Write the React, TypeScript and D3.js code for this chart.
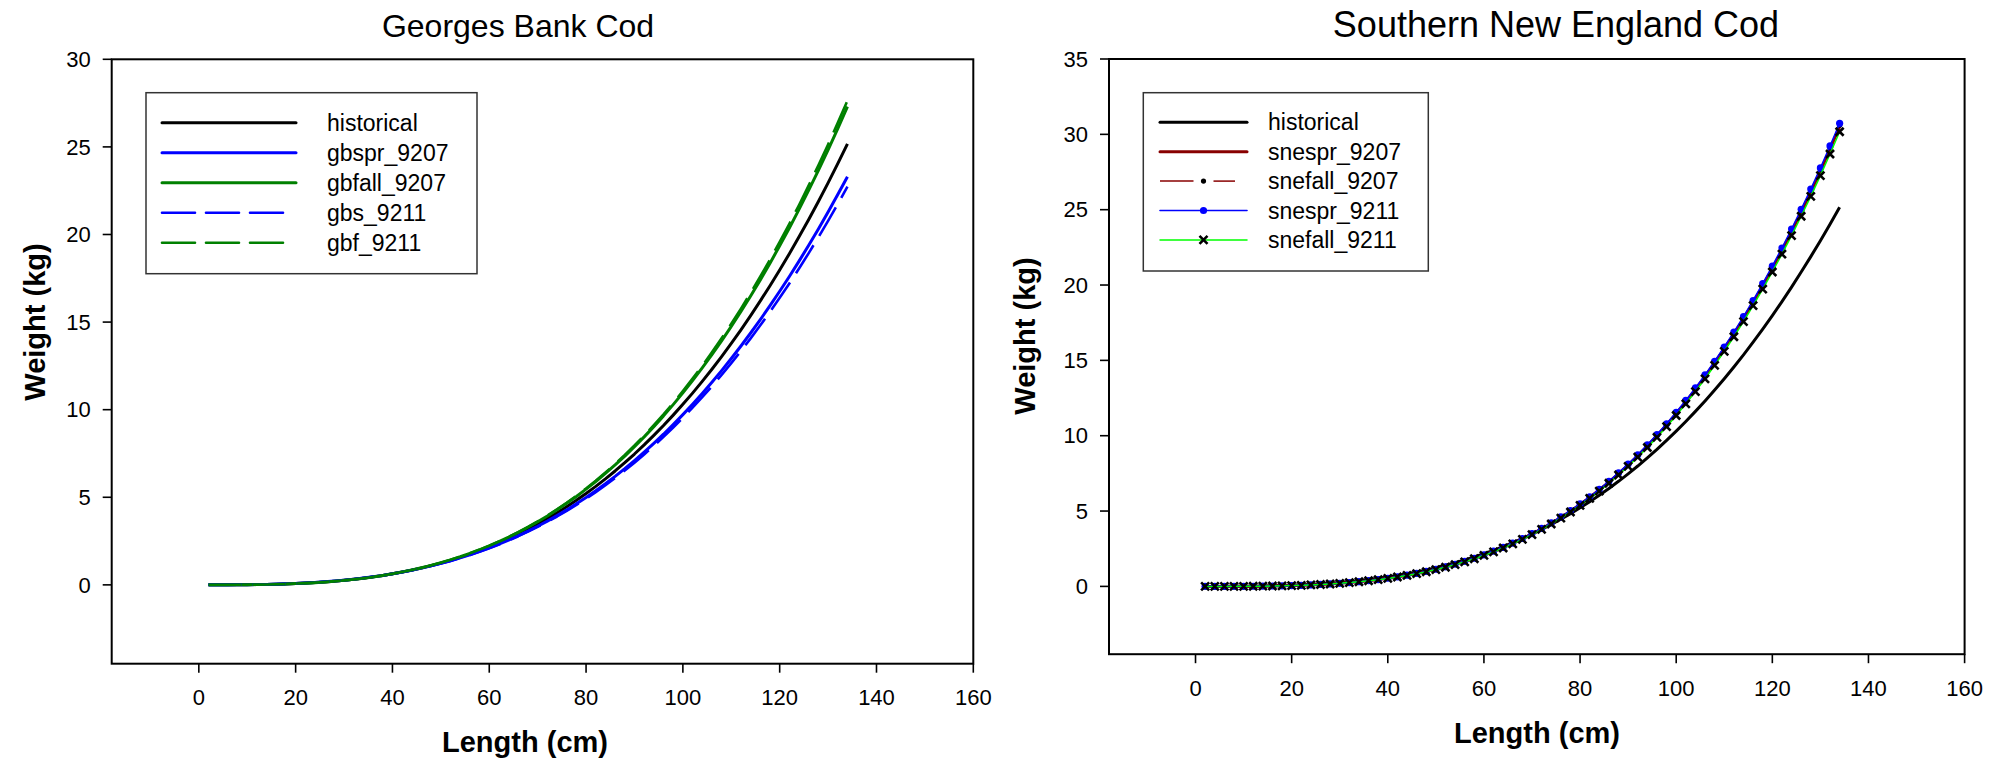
import React from "react";
import * as d3 from "d3";

// ---------- DATA ----------
const lengths = [2, 4, 6, 8, 10, 12, 14, 16, 18, 20, 22, 24, 26, 28, 30, 32, 34, 36, 38, 40, 42, 44, 46, 48, 50, 52, 54, 56, 58, 60, 62, 64, 66, 68, 70, 72, 74, 76, 78, 80, 82, 84, 86, 88, 90, 92, 94, 96, 98, 100, 102, 104, 106, 108, 110, 112, 114, 116, 118, 120, 122, 124, 126, 128, 130, 132, 134];

const historical = [0.0001, 0.00056, 0.00192, 0.00462, 0.00914, 0.01595, 0.02553, 0.03835, 0.05496, 0.0758, 0.1014, 0.1322, 0.1688, 0.2117, 0.2612, 0.3181, 0.3828, 0.4557, 0.5375, 0.6287, 0.7296, 0.8409, 0.9629, 1.0965, 1.242, 1.3999, 1.571, 1.7556, 1.9538, 2.1668, 2.3948, 2.6385, 2.8985, 3.175, 3.4685, 3.7805, 4.1101, 4.4582, 4.8262, 5.2136, 5.6219, 6.0505, 6.5006, 6.9734, 7.4692, 7.9875, 8.53, 9.0948, 9.6878, 10.3034, 10.946, 11.614, 12.307, 13.03, 13.782, 14.561, 15.369, 16.207, 17.076, 17.975, 18.902, 19.865, 20.861, 21.884, 22.944, 24.041, 25.168];

// Georges Bank
const gbspr_9207 = [0.0001, 0.00065, 0.00217, 0.00512, 0.00999, 0.01722, 0.0273, 0.0407, 0.0578, 0.0792, 0.1053, 0.1366, 0.1735, 0.2166, 0.266, 0.3227, 0.3868, 0.4588, 0.5393, 0.6287, 0.7273, 0.8358, 0.9543, 1.0838, 1.2245, 1.3767, 1.5412, 1.7183, 1.908, 2.1115, 2.3288, 2.5606, 2.8074, 3.0693, 3.3469, 3.6413, 3.9519, 4.2793, 4.625, 4.9881, 5.3702, 5.7708, 6.1908, 6.6313, 7.0926, 7.5741, 8.0775, 8.6007, 9.1494, 9.7184, 10.3115, 10.927, 11.565, 12.23, 12.921, 13.635, 14.376, 15.143, 15.937, 16.758, 17.604, 18.482, 19.388, 20.319, 21.282, 22.278, 23.3];
const gbfall_9207 = [0.0001, 0.00048, 0.00169, 0.00415, 0.00833, 0.01471, 0.0238, 0.0361, 0.0521, 0.0724, 0.0974, 0.1277, 0.164, 0.2067, 0.2562, 0.3134, 0.3786, 0.4525, 0.5357, 0.6287, 0.732, 0.8463, 0.972, 1.11, 1.2608, 1.4248, 1.603, 1.7958, 2.0032, 2.2266, 2.4664, 2.7231, 2.9977, 3.2903, 3.6014, 3.9329, 4.2836, 4.6547, 5.0477, 5.4622, 5.8997, 6.3598, 6.8438, 7.3529, 7.8875, 8.4473, 9.0341, 9.6459, 10.2891, 10.9579, 11.6567, 12.384, 13.14, 13.929, 14.751, 15.604, 16.49, 17.409, 18.364, 19.352, 20.373, 21.434, 22.533, 23.663, 24.835, 26.049, 27.298];
const gbs_9211 = [0.0001, 0.00068, 0.00225, 0.00529, 0.01027, 0.01765, 0.0279, 0.0414, 0.0588, 0.0804, 0.1066, 0.138, 0.175, 0.2182, 0.2676, 0.3241, 0.3881, 0.4598, 0.5398, 0.6287, 0.7266, 0.8342, 0.9516, 1.0798, 1.2189, 1.3693, 1.5318, 1.7065, 1.8935, 2.094, 2.3079, 2.536, 2.7787, 3.0361, 3.3087, 3.5978, 3.9024, 4.2234, 4.562, 4.9177, 5.2918, 5.6837, 6.0944, 6.525, 6.9757, 7.4459, 7.9372, 8.4478, 8.9829, 9.5376, 10.1154, 10.715, 11.336, 11.983, 12.656, 13.35, 14.07, 14.816, 15.588, 16.385, 17.206, 18.058, 18.938, 19.84, 20.774, 21.739, 22.729];
const gbf_9211 = [0.0001, 0.00047, 0.00166, 0.00408, 0.00821, 0.01453, 0.0235, 0.0357, 0.0517, 0.0718, 0.0968, 0.1271, 0.1632, 0.2059, 0.2555, 0.3127, 0.378, 0.452, 0.5354, 0.6287, 0.7324, 0.8471, 0.9734, 1.1121, 1.2637, 1.4287, 1.608, 1.802, 2.0109, 2.236, 2.4775, 2.7364, 3.0132, 3.3083, 3.6222, 3.9567, 4.3108, 4.6856, 5.0825, 5.5013, 5.9435, 6.4086, 6.898, 7.4129, 7.9537, 8.5201, 9.114, 9.7333, 10.3846, 11.0616, 11.7697, 12.507, 13.273, 14.073, 14.906, 15.77, 16.669, 17.601, 18.569, 19.572, 20.608, 21.685, 22.801, 23.948, 25.139, 26.372, 27.64];

// Southern New England
const snespr_9207 = [0.00002, 0.00024, 0.00093, 0.0025, 0.0052, 0.0095, 0.016, 0.0249, 0.037, 0.0527, 0.0725, 0.0969, 0.1266, 0.1623, 0.2044, 0.2536, 0.3106, 0.376, 0.4505, 0.535, 0.6297, 0.7357, 0.8536, 0.9842, 1.128, 1.286, 1.46, 1.649, 1.853, 2.076, 2.316, 2.577, 2.855, 3.155, 3.477, 3.82, 4.187, 4.577, 4.992, 5.433, 5.901, 6.396, 6.92, 7.473, 8.057, 8.671, 9.32, 9.997, 10.714, 11.462, 12.248, 13.069, 13.927, 14.826, 15.766, 16.745, 17.766, 18.831, 19.941, 21.093, 22.288, 23.535, 24.833, 26.17, 27.561, 29.01, 30.503];
const snefall_9207 = [0.00002, 0.00024, 0.00094, 0.0025, 0.0052, 0.0096, 0.016, 0.025, 0.0371, 0.0529, 0.0727, 0.0972, 0.1271, 0.1628, 0.205, 0.2544, 0.3116, 0.3772, 0.452, 0.5367, 0.6318, 0.7382, 0.8564, 0.9874, 1.132, 1.291, 1.465, 1.654, 1.859, 2.083, 2.324, 2.585, 2.865, 3.166, 3.488, 3.833, 4.201, 4.593, 5.009, 5.451, 5.921, 6.417, 6.943, 7.497, 8.084, 8.7, 9.351, 10.031, 10.75, 11.5, 12.289, 13.113, 13.973, 14.875, 15.818, 16.801, 17.825, 18.893, 20.008, 21.163, 22.362, 23.613, 24.916, 26.257, 27.652, 29.106, 30.604];
const snespr_9211 = [0.00002, 0.00024, 0.00094, 0.0025, 0.0052, 0.0096, 0.0161, 0.0251, 0.0373, 0.0531, 0.073, 0.0976, 0.1276, 0.1635, 0.2059, 0.2555, 0.3129, 0.3788, 0.4539, 0.539, 0.6345, 0.7413, 0.86, 0.9916, 1.137, 1.296, 1.471, 1.661, 1.867, 2.092, 2.334, 2.596, 2.877, 3.179, 3.503, 3.849, 4.219, 4.612, 5.03, 5.474, 5.946, 6.444, 6.972, 7.529, 8.118, 8.737, 9.39, 10.073, 10.795, 11.549, 12.341, 13.168, 14.032, 14.938, 15.885, 16.872, 17.9, 18.973, 20.092, 21.252, 22.456, 23.713, 25.021, 26.368, 27.769, 29.229, 30.733];
const snefall_9211 = [0.00002, 0.00024, 0.00092, 0.0025, 0.0051, 0.0094, 0.0158, 0.0246, 0.0366, 0.0521, 0.0717, 0.0958, 0.1253, 0.1605, 0.2022, 0.2508, 0.3072, 0.3719, 0.4456, 0.5292, 0.623, 0.7278, 0.8443, 0.9736, 1.116, 1.272, 1.444, 1.631, 1.833, 2.054, 2.292, 2.549, 2.825, 3.121, 3.439, 3.779, 4.142, 4.528, 4.938, 5.374, 5.838, 6.327, 6.845, 7.392, 7.97, 8.578, 9.219, 9.89, 10.599, 11.339, 12.116, 12.928, 13.777, 14.666, 15.596, 16.565, 17.574, 18.628, 19.726, 20.865, 22.047, 23.281, 24.566, 25.888, 27.264, 28.697, 30.174];

const xTicks = [0, 20, 40, 60, 80, 100, 120, 140, 160];
const gbYTicks = [0, 5, 10, 15, 20, 25, 30];
const sneYTicks = [0, 5, 10, 15, 20, 25, 30, 35];

const gbTitle = "Georges Bank Cod";
const sneTitle = "Southern New England Cod";
const gbLabels = ["historical", "gbspr_9207", "gbfall_9207", "gbs_9211", "gbf_9211"];
const sneLabels = ["historical", "snespr_9207", "snefall_9207", "snespr_9211", "snefall_9211"];

// ---------- STYLES ----------
const FONT = "'Liberation Sans', Arial, Helvetica, sans-serif";
const BLUE = "#0000ff";
const GREEN = "#008000";
const DRED = "#880000";
const LIME = "#00ff00";

type Series = {
  values: number[];
  color: string;
  width: number;
  dash?: string;
  marker?: "dot" | "bigdot" | "x";
  markerColor?: string;
};

type PanelCfg = {
  title: string;
  titleX: number;
  titleSize: number;
  x0: number; x1: number; yTop: number; yBot: number;
  yDomain: [number, number];
  yTicks: number[];
  yLabelX: number;
  yLabelY: number;
  xLabelX: number;
  xLabelY: number;
  axisTitleSize: number;
  series: Series[];
  labels: string[];
  legend: { x: number; y: number; w: number; h: number; lx0: number; lx1: number; tx: number; row0: number; rowStep: number };
};

function Marker({ kind, cx, cy, color }: { kind: string; cx: number; cy: number; color: string }) {
  if (kind === "dot") return <circle cx={cx} cy={cy} r={2.6} fill={color} />;
  if (kind === "bigdot") return <circle cx={cx} cy={cy} r={3.6} fill={color} />;
  const s = 4;
  return (
    <path d={`M${cx - s},${cy - s}L${cx + s},${cy + s}M${cx - s},${cy + s}L${cx + s},${cy - s}`} stroke={color} strokeWidth={2.6} fill="none" />
  );
}

function Panel({ cfg }: { cfg: PanelCfg }) {
  const x = d3.scaleLinear().domain([-18, 160]).range([cfg.x0, cfg.x1]);
  const y = d3.scaleLinear().domain(cfg.yDomain).range([cfg.yBot, cfg.yTop]);
  const line = d3.line<number>().x((_, i) => x(lengths[i])).y((d) => y(d));
  const tick = 9;
  const lg = cfg.legend;
  return (
    <g fontFamily={FONT}>
      <text x={cfg.titleX} y={37} fontSize={cfg.titleSize} textAnchor="middle">{cfg.title}</text>
      {cfg.series.map((s, si) => (
        <g key={si}>
          <path d={line(s.values) || ""} fill="none" stroke={s.color} strokeWidth={s.width} strokeDasharray={s.dash} strokeLinejoin="round" />
          {s.marker && s.values.map((v, i) => (
            <Marker key={i} kind={s.marker!} cx={x(lengths[i])} cy={y(v)} color={s.markerColor || s.color} />
          ))}
        </g>
      ))}
      <rect x={cfg.x0} y={cfg.yTop} width={cfg.x1 - cfg.x0} height={cfg.yBot - cfg.yTop} fill="none" stroke="#000" strokeWidth={2} />
      {cfg.yTicks.map((t) => (
        <g key={t}>
          <line x1={cfg.x0 - tick} x2={cfg.x0} y1={y(t)} y2={y(t)} stroke="#000" strokeWidth={1.6} />
          <text x={cfg.x0 - 21} y={y(t)} dy="0.35em" fontSize={22} textAnchor="end">{t}</text>
        </g>
      ))}
      {xTicks.map((t) => (
        <g key={t}>
          <line x1={x(t)} x2={x(t)} y1={cfg.yBot} y2={cfg.yBot + tick} stroke="#000" strokeWidth={1.6} />
          <text x={x(t)} y={cfg.yBot + 34} dy="0.35em" fontSize={22} textAnchor="middle">{t}</text>
        </g>
      ))}
      <text x={cfg.xLabelX} y={cfg.xLabelY} fontSize={cfg.axisTitleSize} fontWeight="bold" textAnchor="middle">Length (cm)</text>
      <text transform={`translate(${cfg.yLabelX},${cfg.yLabelY}) rotate(-90)`} dy="0.35em" fontSize={cfg.axisTitleSize} fontWeight="bold" textAnchor="middle">Weight (kg)</text>
      <rect x={lg.x} y={lg.y} width={lg.w} height={lg.h} fill="#fff" stroke="#333" strokeWidth={1.5} />
      {cfg.series.map((s, i) => {
        const ry = lg.row0 + i * lg.rowStep;
        const mx = (lg.lx0 + lg.lx1) / 2;
        const isSneFall07 = s.marker === "dot";
        return (
          <g key={i}>
            {isSneFall07 ? (
              <>
                <line x1={lg.lx0} x2={mx - 10} y1={ry} y2={ry} stroke={s.color} strokeWidth={s.width} />
                <line x1={mx + 10} x2={lg.lx1 - 12} y1={ry} y2={ry} stroke={s.color} strokeWidth={s.width} />
              </>
            ) : (
              <line x1={lg.lx0} x2={s.dash ? lg.lx0 + 121 : lg.lx1} y1={ry} y2={ry} stroke={s.color} strokeWidth={s.width} strokeDasharray={s.dash} strokeLinecap="round" />
            )}
            {s.marker && <Marker kind={s.marker} cx={mx} cy={ry} color={s.markerColor || s.color} />}
            <text x={lg.tx} y={ry} dy="0.35em" fontSize={23}>{cfg.labels[i]}</text>
          </g>
        );
      })}
    </g>
  );
}

const gbCfg: PanelCfg = {
  title: gbTitle,
  titleX: 518,
  titleSize: 32,
  x0: 111.7, x1: 973.3, yTop: 59.3, yBot: 663.7,
  yDomain: [-4.5, 30],
  yTicks: gbYTicks,
  yLabelX: 35,
  yLabelY: 322,
  xLabelX: 525,
  xLabelY: 752,
  axisTitleSize: 29,
  series: [
    { values: historical, color: "#000", width: 3 },
    { values: gbspr_9207, color: BLUE, width: 3 },
    { values: gbfall_9207, color: GREEN, width: 3 },
    { values: gbs_9211, color: BLUE, width: 2.6, dash: "33 11" },
    { values: gbf_9211, color: GREEN, width: 2.6, dash: "33 11" },
  ],
  labels: gbLabels,
  legend: { x: 146, y: 92.7, w: 331, h: 181, lx0: 162, lx1: 296, tx: 327, row0: 122.7, rowStep: 30 },
};

const sneCfg: PanelCfg = {
  title: sneTitle,
  titleX: 1556,
  titleSize: 36,
  x0: 1109, x1: 1964.6, yTop: 59, yBot: 654.2,
  yDomain: [-4.5, 35],
  yTicks: sneYTicks,
  yLabelX: 1025,
  yLabelY: 336,
  xLabelX: 1537,
  xLabelY: 743,
  axisTitleSize: 29,
  series: [
    { values: historical, color: "#000", width: 3 },
    { values: snespr_9207, color: DRED, width: 3 },
    { values: snefall_9207, color: DRED, width: 1.5, marker: "dot", markerColor: "#000" },
    { values: snespr_9211, color: BLUE, width: 1.6, marker: "bigdot", markerColor: BLUE },
    { values: snefall_9211, color: LIME, width: 1.5, marker: "x", markerColor: "#000" },
  ],
  labels: sneLabels,
  legend: { x: 1143.3, y: 92.7, w: 285, h: 178.3, lx0: 1160, lx1: 1247, tx: 1268, row0: 122.3, rowStep: 29.4 },
};

export default function App() {
  return (
    <svg width={1990} height={760} style={{ position: "absolute", left: 0, top: 0, background: "#fff" }}>
      <rect x={0} y={0} width={1990} height={760} fill="#fff" />
      <Panel cfg={gbCfg} />
      <Panel cfg={sneCfg} />
    </svg>
  );
}
